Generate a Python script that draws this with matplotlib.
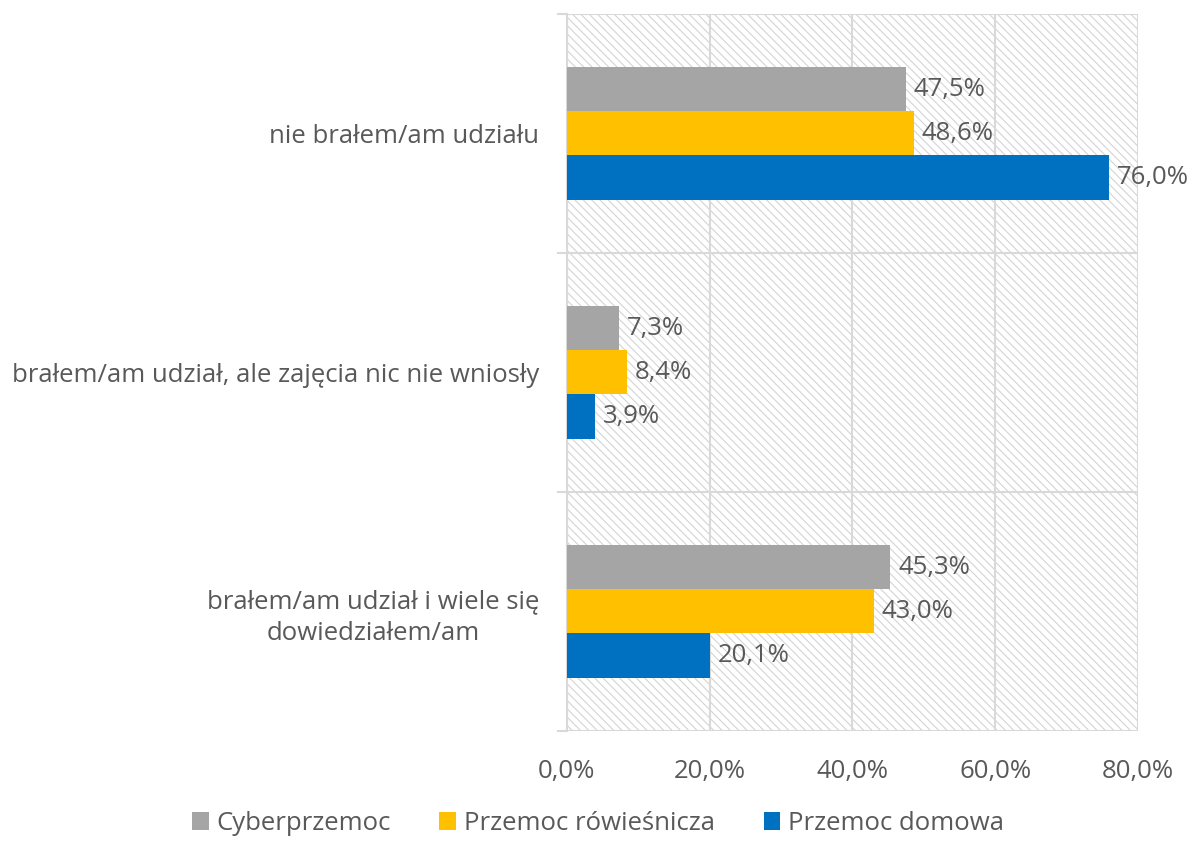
import matplotlib.pyplot as plt
from matplotlib.patches import Rectangle
import numpy as np

plt.rcParams['font.family'] = ['Open Sans', 'DejaVu Sans']
plt.rcParams['hatch.linewidth'] = 0.8

categories = ['nie brałem/am udziału',
              'brałem/am udział, ale zajęcia nic nie wniosły',
              'brałem/am udział i wiele się\ndowiedziałem/am']
series = ['Cyberprzemoc', 'Przemoc rówieśnicza', 'Przemoc domowa']
cyber = [47.5, 7.3, 45.3]
rowies = [48.6, 8.4, 43.0]
domowa = [76.0, 3.9, 20.1]
colors = ['#A5A5A5', '#FFC000', '#0070C0']
xticks = [0, 20, 40, 60, 80]

txt = '#595959'
grid = '#D9D9D9'

fig = plt.figure(figsize=(11.96, 8.42), dpi=100)
ax = fig.add_axes([0.474, 0.132, 0.4775, 0.8515])

# hatched plot area
ax.add_patch(Rectangle((0, 0), 1, 1, transform=ax.transAxes, facecolor='white',
                       edgecolor='#D4D4D4', hatch='\\\\\\\\', linewidth=0, zorder=0))

y = np.arange(len(categories))
h = 0.185
for i, (vals, c, name) in enumerate(zip([cyber, rowies, domowa], colors, series)):
    pos = y + (i - 1) * h
    bars = ax.barh(pos, vals, height=h, color=c, label=name, zorder=3)
    for b, v in zip(bars, vals):
        ax.text(v + 1.1, b.get_y() + b.get_height() / 2, f'{v:.1f}%'.replace('.', ','),
                va='center', ha='left', fontsize=18.5, color=txt, zorder=4)

ax.set_xlim(0, 80)
ax.set_ylim(2.5, -0.5)
ax.set_xticks(xticks)
ax.set_xticklabels([f'{v:.1f}%'.replace('.', ',') for v in xticks], fontsize=18.5, color=txt)
ax.set_yticks(y)
ax.set_yticklabels(categories, fontsize=18.5, color=txt, multialignment='center',
                   linespacing=1.35)
ax.set_yticks([-0.5, 0.5, 1.5, 2.5], minor=True)
ax.tick_params(axis='x', length=0, pad=20)
ax.tick_params(axis='y', which='major', length=0, pad=20)
ax.tick_params(axis='y', which='minor', length=7, color=grid, width=1.5)
ax.grid(axis='x', color=grid, linewidth=1.5, zorder=1)
ax.grid(axis='y', which='minor', color=grid, linewidth=1.5, zorder=1)
for s in ['top', 'right', 'bottom']:
    ax.spines[s].set_visible(False)
ax.spines['left'].set_color(grid)
ax.spines['left'].set_linewidth(1.5)
ax.set_axisbelow(True)

handles, labels = ax.get_legend_handles_labels()
fig.legend(handles, labels, loc='center', bbox_to_anchor=(0.5, 0.022), ncol=3,
           frameon=False, fontsize=18.5, labelcolor=txt, handlelength=0.65,
           handleheight=0.65, handletextpad=0.3, columnspacing=1.9,
           borderpad=0.1)

fig.savefig('out.png', dpi=100)
